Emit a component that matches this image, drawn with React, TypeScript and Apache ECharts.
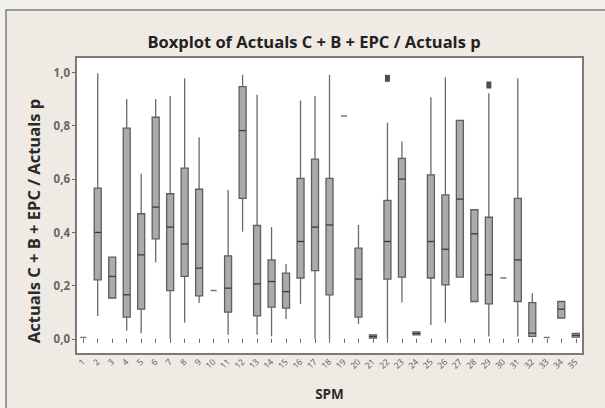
import React, { useEffect, useRef } from "react";
import * as echarts from "echarts";

const categories = [
  "1","2","3","4","5","6","7","8","9","10","11","12","13","14","15","16","17","18",
  "19","20","21","22","23","24","25","26","27","28","29","30","31","32","33","34","35",
];
const whiskerLow = [0.005,0.086,0.153,0.031,0.021,0.286,0.0,0.061,0.134,0.181,0.015,0.402,0.015,0.009,0.074,0.131,0.0,0.0,0.836,0.056,0.003,0.0,0.136,0.015,0.052,0.061,0.231,0.14,0.009,0.228,0.009,0.009,0.005,0.078,0.006];
const q1 = [0.005,0.221,0.153,0.081,0.111,0.375,0.181,0.234,0.161,0.181,0.10,0.527,0.086,0.119,0.115,0.228,0.256,0.165,0.836,0.081,0.003,0.224,0.231,0.015,0.228,0.202,0.231,0.14,0.131,0.228,0.14,0.009,0.005,0.078,0.006];
const median = [0.005,0.399,0.234,0.165,0.315,0.494,0.419,0.356,0.265,0.181,0.19,0.781,0.206,0.215,0.177,0.365,0.419,0.427,0.836,0.224,0.009,0.365,0.599,0.02,0.365,0.336,0.524,0.394,0.24,0.228,0.296,0.021,0.005,0.111,0.013];
const q3 = [0.005,0.565,0.306,0.79,0.469,0.831,0.544,0.64,0.561,0.181,0.311,0.946,0.425,0.296,0.246,0.602,0.674,0.602,0.836,0.34,0.015,0.519,0.677,0.026,0.615,0.54,0.819,0.484,0.456,0.228,0.527,0.136,0.005,0.14,0.02];
const whiskerHigh = [0.005,0.996,0.306,0.899,0.619,0.899,0.911,0.977,0.756,0.181,0.559,0.99,0.915,0.419,0.281,0.894,0.911,0.99,0.836,0.427,0.015,0.811,0.74,0.026,0.906,0.981,0.819,0.484,0.921,0.228,0.977,0.171,0.005,0.14,0.02];
const outlierCategories = ["22", "29"];
const outlierValues = [0.977, 0.952];
const yTicks = [0, 0.2, 0.4, 0.6, 0.8, 1.0];

export default function App() {
  const ref = useRef<HTMLDivElement>(null);
  useEffect(() => {
    if (!ref.current) return;
    const chart = echarts.init(ref.current, null, { renderer: "svg" });
    const boxData = categories.map((_, i) => [i, whiskerLow[i], q1[i], median[i], q3[i], whiskerHigh[i]]);
    const font = "'Open Sans', 'DejaVu Sans', sans-serif";
    chart.setOption({
      animation: false,
      backgroundColor: "#F1F0EC",
      graphic: [
        {
          type: "rect",
          shape: { x: 6, y: 10, width: 640, height: 440 },
          style: { fill: "#EFEBE4", stroke: "#7d7d7d", lineWidth: 1.5 },
          z: -10,
        },
        {
          type: "text",
          x: 33,
          y: 221,
          rotation: Math.PI / 2,
          style: {
            text: "Actuals C + B + EPC / Actuals p",
            fontFamily: font,
            fontWeight: "bold",
            fontSize: 16.5,
            fill: "#2a2a2a",
            align: "center",
            verticalAlign: "middle",
          },
        },
      ],
      title: {
        text: "Boxplot of Actuals C + B + EPC / Actuals p",
        left: 309,
        top: 28,
        textAlign: "center",
        textStyle: { fontFamily: font, fontWeight: "bold", fontSize: 16.5, color: "#222" },
      },
      grid: {
        left: 76, top: 57, right: 22, bottom: 54,
        show: true, backgroundColor: "#ffffff", borderColor: "#7a7a7a", borderWidth: 2,
      },
      xAxis: {
        type: "category",
        data: categories,
        boundaryGap: true,
        name: "SPM",
        nameLocation: "middle",
        nameGap: 33,
        nameTextStyle: { fontFamily: font, fontWeight: "bold", fontSize: 13.5, color: "#2a2a2a" },
        axisLine: { show: false },
        axisTick: { show: true, alignWithLabel: true, length: 4, lineStyle: { color: "#666" } },
        axisLabel: { interval: 0, rotate: 45, fontSize: 8.5, color: "#555", fontFamily: font, margin: 6 },
        splitLine: { show: false },
      },
      yAxis: {
        type: "value",
        min: -0.057,
        max: 1.057,
        axisLine: { show: false },
        axisTick: { show: true, length: 4, lineStyle: { color: "#666" }, customValues: yTicks },
        axisLabel: {
          customValues: yTicks,
          fontSize: 11.5, color: "#666", fontFamily: font, fontWeight: "bold", margin: 6,
          formatter: (v: number) => v.toFixed(1).replace(".", ","),
        },
        splitLine: { show: false },
      },
      series: [
        {
          type: "custom",
          data: boxData,
          encode: { x: 0, y: [1, 2, 3, 4, 5] },
          renderItem: (params: any, api: any) => {
            const idx = api.value(0);
            const lo = api.value(1), a = api.value(2), m = api.value(3), b = api.value(4), hi = api.value(5);
            const x = api.coord([idx, m])[0];
            const yLo = api.coord([idx, lo])[1];
            const yA = api.coord([idx, a])[1];
            const yM = api.coord([idx, m])[1];
            const yB = api.coord([idx, b])[1];
            const yHi = api.coord([idx, hi])[1];
            const bw = 7;
            if (lo === hi) {
              return {
                type: "line",
                shape: { x1: x - 3, y1: yM, x2: x + 3, y2: yM },
                style: { stroke: "#777", lineWidth: 1.5 },
              };
            }
            const children: any[] = [];
            if (yHi < yB) children.push({ type: "line", shape: { x1: x, y1: yHi, x2: x, y2: yB }, style: { stroke: "#6a6a6a", lineWidth: 1.3 } });
            if (yLo > yA) children.push({ type: "line", shape: { x1: x, y1: yA, x2: x, y2: yLo }, style: { stroke: "#6a6a6a", lineWidth: 1.3 } });
            const h = Math.max(yA - yB, 2);
            children.push({
              type: "rect",
              shape: { x: x - bw / 2, y: yB, width: bw, height: h },
              style: { fill: "#ababab", stroke: "#5f5f5f", lineWidth: 1.3 },
            });
            children.push({ type: "line", shape: { x1: x - bw / 2, y1: yM, x2: x + bw / 2, y2: yM }, style: { stroke: "#3c3c3c", lineWidth: 1.3 } });
            return { type: "group", children };
          },
        },
        {
          type: "scatter",
          data: outlierCategories.map((c, i) => [c, outlierValues[i]]),
          symbol: "rect",
          symbolSize: [5, 7],
          itemStyle: { color: "#222" },
        },
      ],
    });
    return () => chart.dispose();
  }, []);
  return <div ref={ref} style={{ position: "absolute", left: 0, top: 0, width: 605, height: 408 }} />;
}
